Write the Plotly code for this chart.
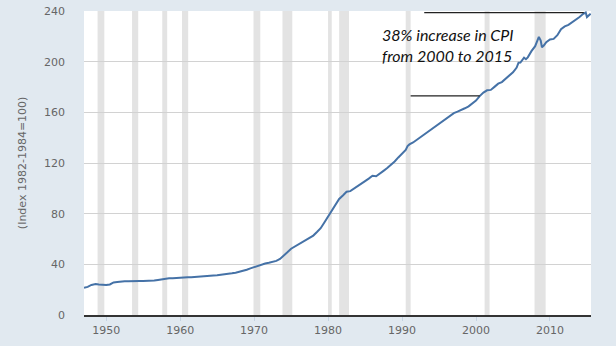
import plotly.graph_objects as go

# Consumer Price Index for All Urban Consumers (Index 1982-1984=100)
dates = [
    "1947-01", "1947-07", "1948-01", "1948-08", "1949-01", "1949-07", "1950-01", "1950-07",
    "1951-01", "1951-07", "1952-01", "1952-07", "1953-01", "1953-07", "1954-01", "1954-07",
    "1955-01", "1955-07", "1956-01", "1956-07", "1957-01", "1957-07", "1958-01", "1958-07",
    "1959-01", "1959-07", "1960-01", "1960-07", "1961-01", "1961-07", "1962-01", "1962-07",
    "1963-01", "1963-07", "1964-01", "1964-07", "1965-01", "1965-07", "1966-01", "1966-07",
    "1967-01", "1967-07", "1968-01", "1968-07", "1969-01", "1969-07", "1970-01", "1970-07",
    "1971-01", "1971-07", "1972-01", "1972-07", "1973-01", "1973-07", "1974-01", "1974-07",
    "1975-01", "1975-07", "1976-01", "1976-07", "1977-01", "1977-07", "1978-01", "1978-07",
    "1979-01", "1979-07", "1980-01", "1980-07", "1981-01", "1981-07", "1982-01", "1982-07",
    "1983-01", "1983-07", "1984-01", "1984-07", "1985-01", "1985-07", "1986-01", "1986-07",
    "1987-01", "1987-07", "1988-01", "1988-07", "1989-01", "1989-07", "1990-01", "1990-07",
    "1990-10", "1991-01", "1991-07", "1992-01", "1992-07", "1993-01", "1993-07", "1994-01",
    "1994-07", "1995-01", "1995-07", "1996-01", "1996-07", "1997-01", "1997-07", "1998-01",
    "1998-07", "1999-01", "1999-07", "2000-01", "2000-07", "2001-01", "2001-07", "2002-01",
    "2002-07", "2003-01", "2003-07", "2004-01", "2004-07", "2005-01", "2005-07", "2005-10",
    "2006-01", "2006-07", "2006-10", "2007-01", "2007-07", "2008-01", "2008-07", "2008-10",
    "2008-12", "2009-03", "2009-07", "2010-01", "2010-07", "2011-01", "2011-07", "2012-01",
    "2012-07", "2013-01", "2013-07", "2014-01", "2014-07", "2014-11", "2015-01", "2015-04",
    "2015-07",
]
cpi = [
    21.5, 22.2, 23.7, 24.4, 24.0, 23.7, 23.6, 24.1,
    25.7, 26.0, 26.4, 26.6, 26.6, 26.8, 26.9, 26.9,
    26.8, 26.8, 26.8, 27.2, 27.7, 28.2, 28.6, 29.0,
    29.0, 29.3, 29.4, 29.6, 29.8, 29.9, 30.0, 30.3,
    30.5, 30.7, 30.9, 31.1, 31.3, 31.6, 31.9, 32.6,
    32.9, 33.4, 34.0, 34.9, 35.7, 36.8, 37.9, 38.9,
    39.9, 40.6, 41.2, 41.8, 42.7, 44.2, 46.6, 49.5,
    52.3, 54.0, 55.8, 57.0, 58.7, 60.9, 62.7, 65.5,
    68.5, 73.1, 78.0, 82.7, 87.2, 91.6, 94.4, 97.3,
    97.8, 99.9, 102.1, 104.1, 105.7, 107.7, 109.9, 109.5,
    111.4, 113.8, 116.0, 118.5, 121.2, 124.4, 127.5, 130.4,
    133.4, 134.7, 136.2, 138.3, 140.5, 142.8, 144.4, 146.3,
    148.4, 150.5, 152.5, 154.7, 157.0, 159.4, 160.5, 161.6,
    163.2, 164.7, 166.7, 169.3, 172.8, 175.6, 177.4, 177.7,
    180.1, 182.6, 183.9, 186.3, 189.4, 191.6, 195.4, 199.2,
    199.3, 203.1, 201.9, 203.4, 208.3, 212.2, 219.5, 216.6,
    211.4, 212.7, 215.4, 217.5, 218.0, 220.9, 225.7, 227.8,
    229.1, 231.0, 233.4, 235.3, 237.8, 238.8, 235.2, 236.5,
    237.9,
]

# NBER recession periods (peak month, trough month)
recession_start = ["1948-11", "1953-07", "1957-08", "1960-04", "1969-12", "1973-11",
                   "1980-01", "1981-07", "1990-07", "2001-03", "2007-12"]
recession_end = ["1949-10", "1954-05", "1958-04", "1961-02", "1970-11", "1975-03",
                 "1980-07", "1982-11", "1991-03", "2001-11", "2009-06"]

y_ticks = [0, 40, 80, 120, 160, 200, 240]
x_tick_years = [1950, 1960, 1970, 1980, 1990, 2000, 2010]

# Reference levels for the 2000 -> 2015 comparison
pct_increase = 38
cpi_2000 = 173.0
cpi_2015 = cpi_2000 * (1 + pct_increase / 100)
line_2000 = ["1991-03", "2000-07"]
line_2015 = ["1993-01", "2014-08"]

fig = go.Figure()

for s, e in zip(recession_start, recession_end):
    fig.add_shape(type="rect", xref="x", yref="paper", x0=s, x1=e, y0=0, y1=1,
                  fillcolor="#e3e3e3", line_width=0, layer="below")

fig.add_trace(go.Scatter(x=dates, y=cpi, mode="lines",
                         line=dict(color="#4572a7", width=2), hoverinfo="x+y"))

for xs, lvl in ((line_2000, cpi_2000), (line_2015, cpi_2015)):
    fig.add_shape(type="line", xref="x", yref="y", x0=xs[0], x1=xs[1], y0=lvl, y1=lvl,
                  line=dict(color="#222222", width=1.2))

fig.add_annotation(x="1987-02", y=213, xref="x", yref="y", xanchor="left", yanchor="middle",
                   text=f"{pct_increase}% increase in CPI<br>from 2000 to 2015",
                   showarrow=False, align="left",
                   font=dict(family="Lato", size=16, color="#111111", style="italic"))

# Units label placed to the left of the tick labels
fig.add_annotation(x=-0.122, y=0.5, xref="paper", yref="paper",
                   xanchor="center", yanchor="middle", textangle=-90,
                   text="(Index 1982-1984=100)", showarrow=False,
                   font=dict(family="DejaVu Sans", size=11, color="#666666"))

fig.update_layout(
    width=616, height=346,
    margin=dict(l=84, r=25, t=11, b=31),
    paper_bgcolor="#e1e9f0",
    plot_bgcolor="#ffffff",
    showlegend=False,
    font=dict(family="DejaVu Sans", size=11, color="#666666"),
)
fig.update_xaxes(
    type="date", range=["1947-01-01", "2015-07-20"],
    tickvals=[f"{y}-01-01" for y in x_tick_years],
    ticktext=[str(y) for y in x_tick_years],
    showgrid=False, zeroline=False, automargin=False,
    showline=True, linecolor="#333333", linewidth=2,
    ticks="outside", ticklen=4, tickcolor="#c5d3e2", tickwidth=1,
    ticklabelstandoff=0,
    tickfont=dict(size=11, color="#666666"),
)
fig.update_yaxes(
    range=[0, 240], tickvals=y_ticks, automargin=False,
    showgrid=True, gridcolor="#d2d2d2", gridwidth=1, zeroline=False,
    ticks="", ticklabelstandoff=18,
    tickfont=dict(size=11, color="#666666"),
)

fig.write_html("out.html")
